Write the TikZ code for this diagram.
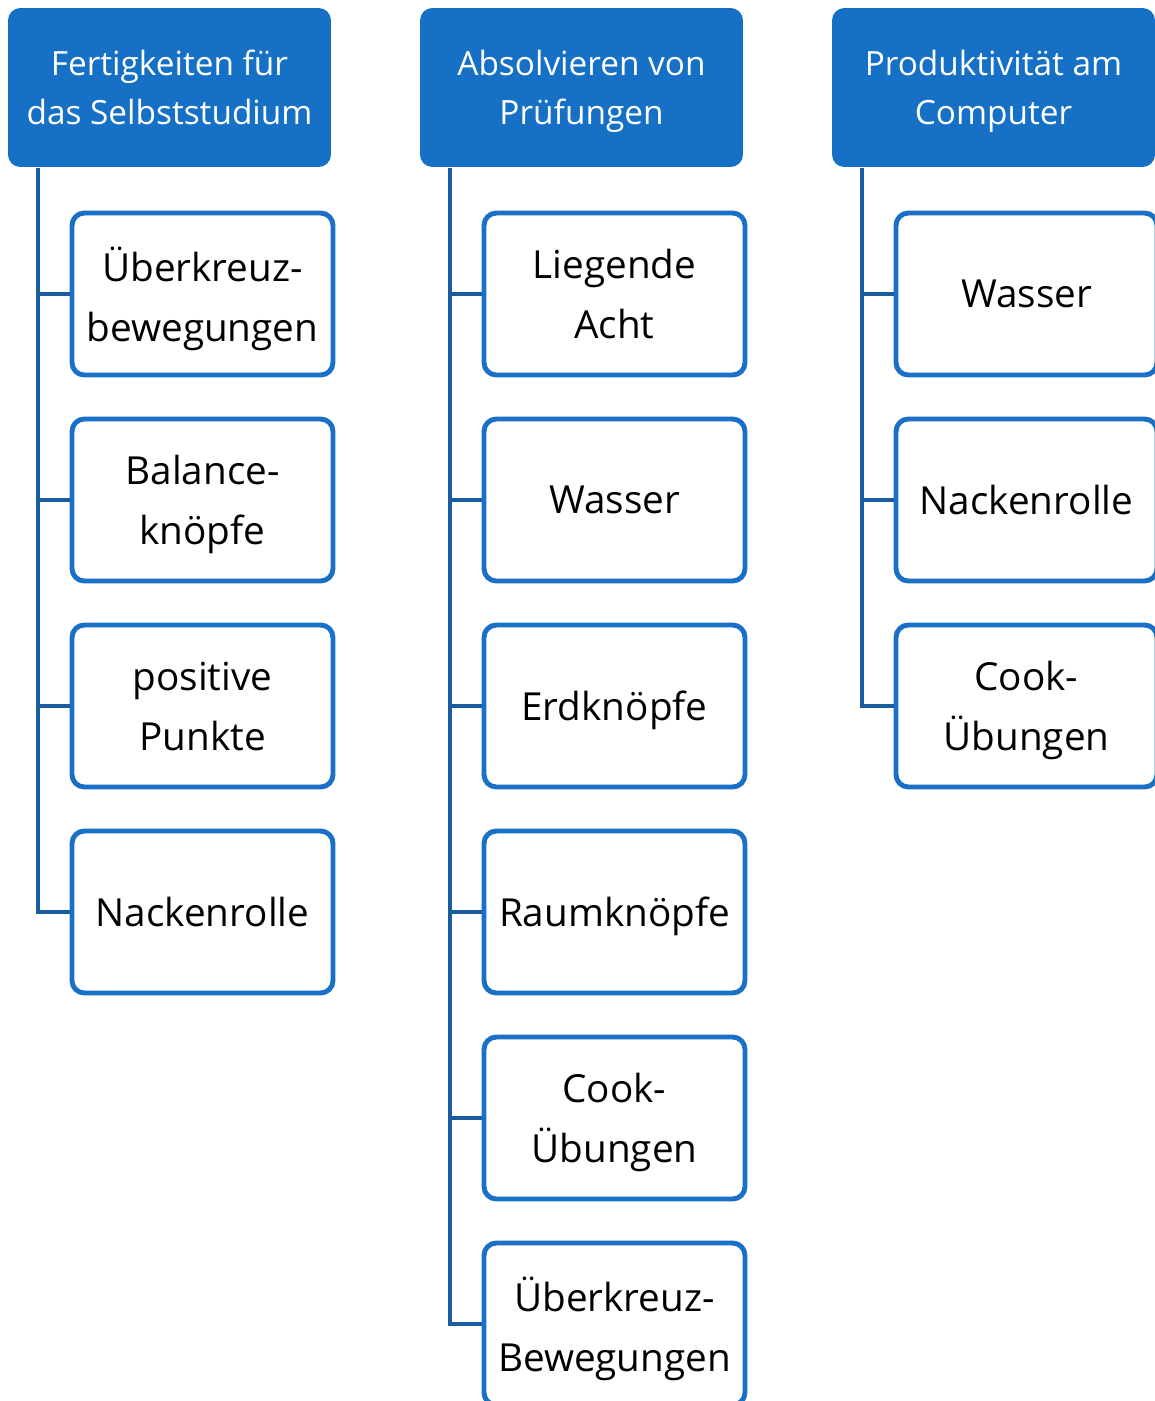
\documentclass[tikz,border=0pt]{standalone}
\usepackage{fontspec}
\setmainfont{Open Sans}
\usetikzlibrary{positioning}
\definecolor{headblue}{HTML}{1570C6}
\definecolor{boxblue}{HTML}{1A70C6}
\definecolor{spineblue}{HTML}{1B5C9E}

\begin{document}
\begin{tikzpicture}[x=0.02cm, y=-0.02cm, line width=2.3pt]

\useasboundingbox (0,0) rectangle (1155,1401);
\clip (0,0) rectangle (1155,1401);

\tikzstyle{every node}=[rectangle, rounded corners=7pt, fill=headblue, draw=none, text=white,
  minimum width=6.46cm, minimum height=3.18cm, text depth=0pt, align=center, font=\fontsize{19}{28}\selectfont]
\draw    (169.5, 87.5) node (selbst) {Fertigkeiten für\\das Selbststudium}
         (581.5, 87.5) node (pruef) {Absolvieren von\\Prüfungen}
         (993.5, 87.5) node (comp) {Produktivität am\\Computer};

\tikzstyle{every node}=[rectangle, rounded corners=7pt, fill=white, draw=boxblue, line width=2.8pt, text=black,
  minimum width=5.22cm, minimum height=3.24cm, text depth=0pt, align=center, font=\fontsize{22}{34}\selectfont]
\draw    (202.5, 294) node (s1) {Überkreuz-\\bewegungen}
         (202.5, 500) node (s2) {Balance-\\knöpfe}
         (202.5, 706) node (s3) {positive\\Punkte}
         (202.5, 912) node (s4) {Nackenrolle};

\draw    (614.5, 294) node (p1) {Liegende\\Acht}
         (614.5, 500) node (p2) {Wasser}
         (614.5, 706) node (p3) {Erdknöpfe}
         (614.5, 912) node (p4) {Raumknöpfe}
         (614.5, 1118) node (p5) {Cook-\\Übungen}
         (614.5, 1324) node (p6) {Überkreuz-\\Bewegungen};

\draw    (1026.5, 294) node (c1) {Wasser}
         (1026.5, 500) node (c2) {Nackenrolle}
         (1026.5, 706) node (c3) {Cook-\\Übungen};

% spines below the headers
\coordinate (selbsttop) at (38, 168);
\coordinate (prueftop) at (450, 168);
\coordinate (comptop) at (862, 168);

\tikzstyle{every path}=[draw=spineblue, line width=2.3pt]
\draw (selbsttop) |- (s1.west);
\draw (selbsttop) |- (s2.west);
\draw (selbsttop) |- (s3.west);
\draw (selbsttop) |- (s4.west);

\draw (prueftop) |- (p1.west);
\draw (prueftop) |- (p2.west);
\draw (prueftop) |- (p3.west);
\draw (prueftop) |- (p4.west);
\draw (prueftop) |- (p5.west);
\draw (prueftop) |- (p6.west);

\draw (comptop) |- (c1.west);
\draw (comptop) |- (c2.west);
\draw (comptop) |- (c3.west);

\end{tikzpicture}
\end{document}
